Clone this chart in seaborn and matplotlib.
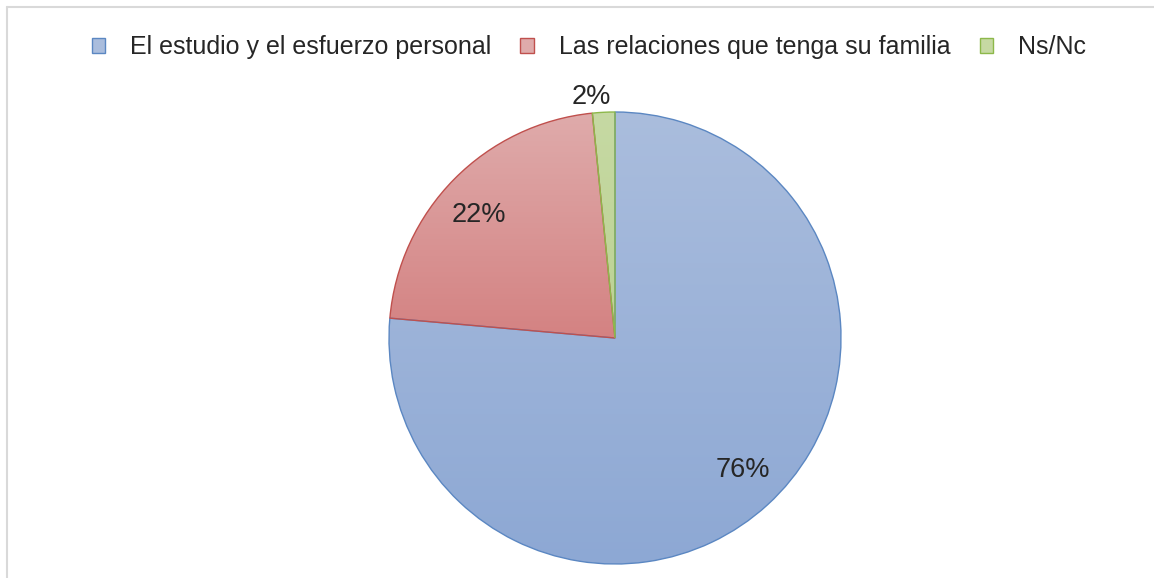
import numpy as np
import matplotlib
matplotlib.use("Agg")
import matplotlib.pyplot as plt
import seaborn as sns
from matplotlib.patches import Patch
from matplotlib.lines import Line2D
from matplotlib.colors import LinearSegmentedColormap

# data
categories = ["El estudio y el esfuerzo personal",
              "Las relaciones que tenga su familia",
              "Ns/Nc"]
values = [76.4, 22.0, 1.6]
labels = ["76%", "22%", "2%"]

# colours: gradient top / bottom and edge
tops = ["#aabddd", "#dfabab", "#c6d9a3"]
bottoms = ["#8da8d4", "#d48282", "#bcd294"]
edges = ["#5b87c2", "#c0504d", "#8db84a"]

sns.set_style("white")
plt.rcParams["font.family"] = ["Liberation Sans", "DejaVu Sans"]

fig = plt.figure(figsize=(11.54, 5.78), dpi=100)
W, H = 1154, 578
cx, cy, r = 615, 338, 226
ax = fig.add_axes([(cx - r) / W, (H - cy - r) / H, 2 * r / W, 2 * r / H])

wedges, _ = ax.pie(values, startangle=90, counterclock=False, radius=1,
                   colors=tops, wedgeprops=dict(linewidth=1.0))
ax.axis("off")

# vertical gradient in each slice
for w, top, bot, ec in zip(wedges, tops, bottoms, edges):
    w.set_edgecolor(ec)
    w.set_clip_on(False)
    path = w.get_path().transformed(w.get_patch_transform())
    ys = path.vertices[:, 1]
    y0, y1 = ys.min(), ys.max()
    cmap = LinearSegmentedColormap.from_list("g", [bot, top])
    grad = np.linspace(0, 1, 256).reshape(-1, 1)
    im = ax.imshow(grad, cmap=cmap, origin="lower", aspect="auto",
                   extent=[-1, 1, y0, y1], zorder=w.get_zorder() - 0.1)
    im.set_clip_path(w)
    w.set_facecolor("none")

ax.set_xlim(-1, 1)
ax.set_ylim(-1, 1)

# percentage labels (pixel positions converted to data coords)
label_pos = [(743, 470), (479, 215), (591, 97)]
for lab, (px, py) in zip(labels, label_pos):
    ax.text((px - cx) / r, (cy - py) / r, lab, ha="center", va="center",
            fontsize=19.5, color="#262626", clip_on=False)

# legend
handles = [Patch(facecolor=t, edgecolor=e, linewidth=1.0) for t, e in zip(tops, edges)]
fig.legend(handles, categories, loc="center", bbox_to_anchor=(589 / W, 1 - 47 / H),
           ncol=3, frameon=False, fontsize=18, handlelength=0.55, handleheight=0.55,
           handletextpad=1.0, columnspacing=1.15, labelcolor="#262626")

# outer light frame (left and top only)
fig.add_artist(Line2D([6.5 / W, 6.5 / W], [0, 1 - 6.5 / H], color="#d9d9d9", lw=1.5))
fig.add_artist(Line2D([6.5 / W, 1], [1 - 6.5 / H, 1 - 6.5 / H], color="#d9d9d9", lw=1.5))

fig.savefig("out.png", dpi=100, facecolor="white")
